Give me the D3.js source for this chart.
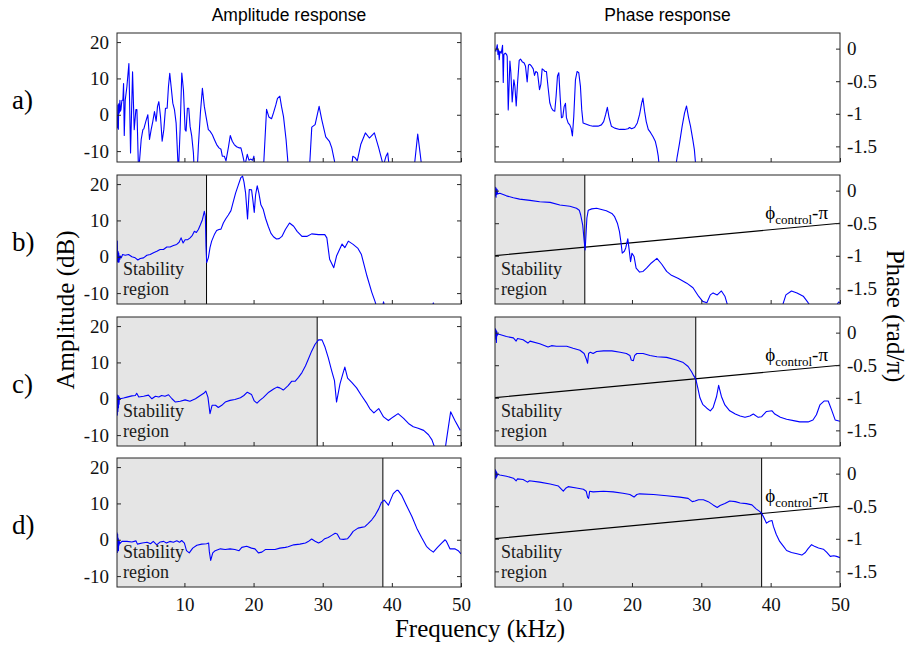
<!DOCTYPE html>
<html><head><meta charset="utf-8">
<script src="https://cdn.jsdelivr.net/npm/d3@7"></script>
<style>body{margin:0;background:#fff} svg{display:block}</style>
</head><body><svg id="c" width="909" height="646"></svg>
<script>
// ---------- DATA ----------
const freqTicks = [10, 20, 30, 40, 50];
const ampTicks = [20, 10, 0, -10];
const phaseTicks = [0, -0.5, -1, -1.5];
const freqDomain = [0.25, 50];
const ampDomain = [-13, 22.5];
const phaseDomain = [-1.74, 0.24];
const rowLabels = ["a)", "b)", "c)", "d)"];
const cutoffs = [null, 13.2, 29.2, 38.7];
const controlFreq = [0, 50];
const controlPhase = [-1, -0.5];

const ampA = [[0.25,-0.5],[0.3,-3.6],[0.38,2.7],[0.45,-4],[0.5,3],[0.58,0.5],[0.67,4],[0.75,1],[0.82,1.4],[0.96,4],[1.1,4],[1.2,8.6],[1.3,-5.7],[1.44,4],[1.68,7.7],[1.97,14.1],[2.21,-10.5],[2.5,11.8],[2.74,-4.1],[2.98,1.4],[3.13,1.4],[3.37,-16],[3.75,-6.8],[3.99,-4.1],[4.13,-3.9],[4.42,-1.8],[4.71,0],[4.95,-6.8],[5.19,-4.1],[5.43,-1.8],[5.67,0.9],[5.91,-1.8],[6.11,2.3],[6.3,3.6],[6.54,-0.5],[6.78,-7.3],[7.02,-4.1],[7.26,1.8],[7.5,1.8],[7.69,7.7],[7.88,11.4],[8.08,7.7],[8.32,3.2],[8.56,1.4],[8.8,-2.3],[9.13,-16],[9.38,-4],[9.62,11.5],[9.86,6.8],[10.1,-4.1],[10.24,-4.5],[10.43,1.8],[10.63,1.8],[10.82,-3.2],[11.06,-5.9],[11.3,-10.5],[11.44,-16],[11.83,-16],[12.02,-8.6],[12.31,0.5],[12.6,7.3],[12.88,2.3],[13.13,-0.5],[13.46,-4.1],[13.7,-4.5],[14.04,-5.5],[14.33,-6.8],[14.66,-8.2],[15,-9.1],[15.29,-9.5],[15.48,-11.4],[15.77,-11.4],[16.01,-12.7],[16.35,-9.1],[16.63,-5.7],[16.92,-7.3],[17.21,-8.2],[17.55,-8.8],[17.88,-9.1],[18.17,-9.1],[18.37,-10.6],[18.56,-12.3],[18.75,-14],[19.09,-10.9],[19.33,-12.5],[19.57,-12.2],[19.86,-12.5],[20.05,-11.4],[20.19,-14.5],[21.44,-14.5],[21.88,1.5],[22.21,-0.6],[22.6,-1.1],[22.88,0.5],[23.22,2.7],[23.46,4.5],[23.8,5.1],[24.04,2.3],[24.33,-0.5],[24.7,-6.8],[25.05,-15],[28.08,-15],[28.42,-3.4],[28.9,-2.7],[29.48,2.3],[29.87,-1.4],[30.44,-6.1],[30.97,-7.3],[31.31,-9.1],[31.7,-12.7],[31.79,-14],[34.2,-14],[34.35,-11.4],[34.68,-11.8],[35,-12.7],[35.5,-8.2],[36.17,-5],[36.75,-6.4],[37.47,-5],[38.1,-9.1],[38.53,-12.3],[38.77,-14],[39.16,-11.4],[39.4,-10.5],[39.6,-14],[43.26,-14],[43.74,-5.3],[44.08,-10.5],[44.3,-14],[50,-14]];

const phaseA = [[0.25,-0.02],[0.38,-0.04],[0.48,0.01],[0.58,0.06],[0.67,-0.09],[0.77,-0.02],[0.86,-0.17],[0.96,-0.04],[1.15,-0.07],[1.34,0.05],[1.44,-0.52],[1.53,-0.09],[1.73,-0.07],[1.92,-0.09],[2.01,-0.12],[2.16,-0.94],[2.4,-0.19],[2.54,-0.37],[2.73,-0.82],[2.97,-0.48],[3.12,-0.58],[3.31,-0.88],[3.5,-0.53],[3.74,-0.18],[3.93,-0.16],[4.17,-0.2],[4.46,-0.22],[4.65,-0.27],[4.89,-0.51],[5.08,-0.25],[5.28,-0.24],[5.52,-0.27],[5.76,-0.31],[5.95,-0.41],[6.14,-0.35],[6.38,-0.37],[6.67,-0.63],[6.86,-0.55],[7.05,-0.31],[7.29,-0.33],[7.43,-0.35],[7.67,-0.35],[7.91,-0.6],[8.15,-0.83],[8.39,-0.91],[8.63,-0.95],[8.87,-0.96],[9.06,-0.73],[9.26,-0.42],[9.45,-0.37],[9.64,-0.73],[9.83,-1.06],[10.02,-1.05],[10.22,-0.89],[10.41,-0.84],[10.55,-1.06],[10.79,-1.14],[11.03,-1.17],[11.22,-1.22],[11.41,-1.34],[11.61,-1.04],[11.85,-0.48],[12.09,-0.35],[12.33,-0.37],[12.57,-0.58],[12.76,-0.94],[12.95,-1.14],[13.43,-1.16],[13.91,-1.18],[14.39,-1.19],[15.11,-1.19],[15.59,-1.17],[15.92,-1.12],[16.21,-1.01],[16.45,-0.9],[16.69,-1.05],[17.03,-1.19],[17.51,-1.22],[18.23,-1.24],[18.94,-1.24],[19.42,-1.23],[19.66,-1.21],[19.95,-1.23],[20.38,-1.21],[20.77,-1.14],[21.1,-1.01],[21.39,-0.84],[21.58,-0.76],[21.82,-0.96],[22.06,-1.12],[22.35,-1.24],[22.69,-1.29],[23.02,-1.35],[23.36,-1.42],[23.6,-1.53],[23.79,-1.65],[23.93,-1.8],[26.33,-1.8],[26.52,-1.66],[26.86,-1.45],[27.24,-1.19],[27.58,-0.99],[27.87,-0.88],[28.15,-1.05],[28.44,-1.19],[28.78,-1.4],[29.0,-1.55],[29.2,-1.8],[50,-1.8]];

const ampB = [[0.25,-1.6],[0.3,4.3],[0.35,-1.2],[0.4,1.5],[0.45,-1.5],[0.5,1.0],[0.55,-1.4],[0.6,0.2],[0.67,-0.7],[0.75,0.2],[0.87,-0.3],[1.06,0.6],[1.44,0.4],[1.92,0.6],[2.4,0],[2.88,-0.3],[3.27,-0.9],[3.61,-0.5],[4.09,-0.3],[4.57,0.4],[5.05,0.6],[5.53,1.1],[6.01,1.5],[6.49,2.0],[6.97,2.0],[7.45,2.7],[7.93,2.7],[8.41,3.1],[8.89,3.4],[9.23,4.0],[9.52,5.2],[9.81,3.8],[10.1,4.7],[10.48,4.7],[10.82,5.2],[11.15,5.9],[11.44,7.0],[11.73,6.7],[12.02,7.5],[12.31,8.8],[12.6,10.2],[12.88,12.5],[13.03,11.1],[13.12,2.9],[13.22,-1.6],[13.46,-0.3],[13.7,2.5],[13.94,4.3],[14.33,6.1],[14.66,7.2],[15,7.5],[15.29,7.6],[15.63,9.3],[15.96,10.4],[16.35,11.5],[16.73,12.7],[17.07,15.2],[17.4,17.5],[17.79,19.7],[18.17,21.8],[18.41,22.2],[18.61,20.6],[18.85,17.5],[19.13,10.4],[19.38,18.5],[19.71,18.4],[19.9,15.6],[20.1,12.2],[20.29,17],[20.53,19.5],[20.77,17.5],[21.06,14.3],[21.39,13.1],[21.73,10.6],[22.12,8.4],[22.5,6.5],[22.88,5.5],[23.32,4.9],[23.7,5.0],[24.1,5.6],[24.6,7.5],[25.2,9.3],[25.8,8.4],[26.3,7],[27,5.6],[27.7,5.6],[28.4,6.3],[29.4,6.1],[30.3,6.1],[30.6,5.2],[31,-0.7],[31.6,-3],[32,0.2],[32.8,3.5],[33.2,2.5],[33.7,4.3],[34.4,3.4],[35.1,2.3],[35.6,0.6],[36.4,-5.3],[37.1,-9.8],[37.6,-12.5],[37.8,-14],[38.6,-14],[38.8,-12.4],[39.0,-14],[45.8,-14],[46.0,-12.7],[46.2,-14],[50,-14]];

const phaseB = [[0.25,0],[0.3,-0.08],[0.35,0.05],[0.4,-0.1],[0.45,0.03],[0.5,-0.06],[0.55,0.02],[0.62,-0.05],[0.95,-0.04],[1.9,-0.08],[2.9,-0.11],[3.8,-0.13],[5.3,-0.15],[6.7,-0.17],[8.2,-0.18],[9.6,-0.22],[11.05,-0.24],[12,-0.27],[12.4,-0.3],[12.6,-0.37],[12.9,-0.53],[13.1,-0.76],[13.25,-0.91],[13.5,-0.42],[13.7,-0.3],[14.2,-0.28],[14.9,-0.27],[15.6,-0.29],[16.3,-0.31],[17.1,-0.35],[17.5,-0.4],[17.9,-0.5],[18.2,-0.63],[18.4,-0.78],[18.6,-0.96],[18.9,-0.93],[19.1,-0.88],[19.4,-0.74],[19.6,-0.91],[19.8,-1.09],[20,-0.96],[20.3,-1.01],[20.6,-1.19],[21.1,-1.25],[21.6,-1.24],[22.1,-1.19],[22.8,-1.11],[23.6,-1.04],[24.3,-1.13],[25,-1.24],[25.7,-1.3],[26.7,-1.35],[27.9,-1.42],[28.8,-1.49],[29.6,-1.62],[30.2,-1.7],[30.8,-1.72],[31.3,-1.6],[31.7,-1.57],[32.3,-1.6],[32.9,-1.54],[33.4,-1.62],[33.9,-1.8],[41.6,-1.8],[42.2,-1.6],[43,-1.54],[43.8,-1.57],[44.7,-1.62],[45.4,-1.72],[45.9,-1.8],[49.3,-1.8],[49.8,-1.71],[50,-1.72]];

const ampC = [[0.25,0.5],[0.3,-4.5],[0.34,1],[0.38,-3.5],[0.42,0.5],[0.46,-2.5],[0.5,0.8],[0.55,-1.5],[0.6,0.3],[0.72,0],[1.2,0.2],[1.7,0.45],[2.4,0.8],[2.9,0.9],[3.1,1.5],[3.4,0.5],[4.1,0.7],[4.8,1],[5.3,0],[5.8,0.7],[6.3,0.5],[6.7,0.9],[7.2,0.7],[7.7,1.1],[8.2,0],[8.7,-0.9],[9.4,-0.7],[10.1,-0.3],[10.8,-0.7],[11.6,0],[12.3,0.9],[12.8,1.5],[13.1,2.1],[13.4,0.45],[13.7,-4.1],[14,-1.8],[14.5,-1.8],[14.9,-2.4],[15.4,-1.8],[15.9,-0.9],[16.6,-0.45],[17.3,-0.2],[18.1,0.3],[18.6,0.9],[19.1,1.8],[19.7,1.2],[20.1,-0.6],[20.5,-1.2],[20.9,-0.45],[21.4,0.3],[22.2,1.8],[22.9,2.7],[23.4,3.2],[23.8,3],[24.3,2.4],[25,3.6],[25.5,4.8],[26,4.8],[26.5,5.9],[27,7.2],[27.5,9],[27.9,10.8],[28.4,13.1],[28.9,15],[29.4,16.2],[29.9,16.2],[30.3,14.4],[30.8,11.3],[31.3,7.7],[31.7,5],[32,-0.9],[32.5,4.1],[32.9,6.8],[33.2,8.7],[33.6,5.7],[34.2,4.5],[34.9,3],[35.6,0.9],[36.4,-1.35],[36.8,-2.7],[37.4,-3.9],[38.1,-2.7],[38.8,-5],[39.5,-6],[40.2,-5],[40.9,-4.1],[41.7,-5.4],[42.4,-6.8],[43.1,-7.7],[43.8,-8.1],[44.6,-8.7],[45.3,-9.9],[45.8,-11.3],[46.3,-14],[47.7,-14],[47.9,-11.3],[48.5,-3.6],[49.1,-5.9],[49.9,-8.7]];

const phaseC = [[0.25,0],[0.3,0.06],[0.35,-0.1],[0.4,0.04],[0.45,-0.15],[0.5,0.02],[0.55,-0.05],[0.62,-0.02],[0.95,-0.03],[1.9,-0.06],[2.9,-0.08],[3.3,-0.13],[3.5,-0.09],[4.3,-0.11],[5,-0.16],[5.3,-0.13],[6.7,-0.17],[7.9,-0.22],[8.4,-0.2],[9.1,-0.21],[10.6,-0.21],[11.5,-0.24],[12.5,-0.27],[13.1,-0.32],[13.4,-0.4],[13.6,-0.47],[13.75,-0.32],[14,-0.3],[14.4,-0.32],[14.9,-0.29],[15.9,-0.28],[17.1,-0.28],[18.3,-0.3],[19.2,-0.32],[19.7,-0.35],[19.9,-0.42],[20.2,-0.43],[20.4,-0.35],[20.7,-0.32],[21.6,-0.32],[22.6,-0.35],[23.6,-0.37],[25,-0.38],[26.4,-0.42],[27.4,-0.46],[28.1,-0.52],[28.6,-0.6],[28.9,-0.66],[29.2,-0.71],[29.5,-0.85],[29.8,-1.0],[30.2,-1.1],[30.8,-1.16],[31.3,-1.2],[31.7,-1.15],[32.2,-0.98],[32.5,-0.81],[32.9,-0.98],[33.4,-1.11],[34.1,-1.2],[34.9,-1.25],[35.6,-1.28],[36.3,-1.3],[37,-1.28],[37.5,-1.25],[38.2,-1.3],[38.7,-1.29],[39.4,-1.21],[40.2,-1.2],[40.6,-1.25],[41.4,-1.3],[42.3,-1.33],[43.3,-1.35],[44.2,-1.37],[45.4,-1.37],[46.1,-1.34],[46.6,-1.26],[47.1,-1.11],[47.7,-1.05],[48.3,-1.05],[48.8,-1.19],[49.3,-1.34],[50,-1.36]];

const ampD = [[0.25,2],[0.3,-3.5],[0.34,1.5],[0.38,-2.5],[0.42,0.5],[0.46,-3],[0.5,0],[0.55,-1.5],[0.6,-0.5],[0.7,-1],[0.96,-0.45],[1.7,-0.45],[2.4,-0.6],[3,-0.3],[3.2,-1.2],[3.9,-0.9],[4.6,-0.7],[5.1,-1.1],[5.5,-0.45],[6,-1.4],[6.5,-0.6],[7,-0.45],[7.4,-0.9],[7.9,-0.45],[8.4,-0.7],[8.9,-0.3],[9.3,-0.7],[9.6,-0.2],[10,-0.9],[10.3,-3],[10.7,-3.6],[11.2,-2.3],[11.8,-1.5],[12.5,-1.2],[13.2,-1.1],[13.5,-0.9],[13.6,-3.2],[13.8,-5.7],[14.1,-3.6],[14.45,-3],[15.2,-2.5],[15.9,-2.7],[16.6,-2.5],[17.3,-2.7],[17.9,-3],[18.3,-2.1],[19,-1.8],[19.7,-2.3],[20.2,-2.5],[20.7,-3.6],[21.2,-3.4],[21.7,-2.7],[22.4,-2.7],[23.1,-2.7],[23.8,-2.3],[24.6,-2.1],[25,-1.9],[25.8,-1.4],[26.7,-1.2],[27.5,-0.9],[27.9,-0.5],[28.4,0.2],[28.9,-0.4],[29.4,-0.9],[29.9,-0.4],[30.3,0.3],[30.8,0.6],[31.3,1.2],[31.8,1.8],[32.1,1.6],[32.5,0.2],[33,0.1],[33.6,0.3],[34,1.2],[34.4,2.3],[35.1,3.2],[35.6,3.4],[36.1,3.6],[36.6,4.5],[37.1,5.5],[37.6,6.8],[38.1,8.5],[38.5,10.3],[38.9,10.9],[39.3,10],[39.5,9.5],[39.8,10.9],[40.2,12.7],[40.7,13.6],[40.9,13.6],[41.4,12.3],[42.1,9.5],[42.9,6.4],[43.6,3.2],[44.3,0.6],[45,-1.8],[45.5,-2.7],[46,-3.4],[46.6,-2.1],[47.2,-0.9],[47.7,0],[47.9,-0.45],[48.4,-2.5],[49.1,-2.5],[49.6,-3],[50,-3.9]];

const phaseD = [[0.25,0],[0.3,0.06],[0.35,-0.08],[0.4,0.04],[0.45,-0.06],[0.5,0.02],[0.55,-0.04],[0.62,-0.01],[0.95,-0.02],[1.9,-0.04],[2.9,-0.07],[3.3,-0.11],[3.5,-0.08],[4.3,-0.09],[4.95,-0.13],[5.2,-0.11],[6.7,-0.13],[8.2,-0.16],[9.4,-0.19],[9.85,-0.24],[10.1,-0.27],[10.5,-0.22],[10.8,-0.2],[12,-0.22],[13,-0.24],[13.4,-0.27],[13.6,-0.36],[13.75,-0.38],[13.9,-0.27],[14.4,-0.28],[15.9,-0.27],[17.3,-0.28],[18.7,-0.3],[19.7,-0.32],[20.3,-0.36],[20.7,-0.32],[21.1,-0.31],[23.1,-0.32],[25,-0.34],[26.9,-0.36],[28.1,-0.38],[28.7,-0.43],[29.1,-0.42],[29.6,-0.4],[30.3,-0.4],[31,-0.43],[31.7,-0.48],[32.3,-0.52],[32.7,-0.49],[33.4,-0.46],[34.1,-0.42],[34.9,-0.43],[35.6,-0.45],[36.5,-0.46],[37.3,-0.48],[37.9,-0.54],[38.4,-0.58],[38.7,-0.61],[39,-0.67],[39.4,-0.76],[39.8,-0.73],[40.2,-0.72],[40.4,-0.81],[40.8,-0.93],[41.3,-1.04],[41.8,-1.11],[42.3,-1.18],[43,-1.21],[43.8,-1.23],[44.5,-1.25],[45,-1.21],[45.4,-1.15],[45.9,-1.09],[46.4,-1.12],[46.9,-1.14],[47.6,-1.16],[48.1,-1.21],[48.6,-1.27],[49.1,-1.26],[49.5,-1.27],[50,-1.29]];

// ---------- DRAWING ----------
const svg = d3.select('#c');
const serif = '"Liberation Serif","Times New Roman",Times,serif';
const sans = '"Liberation Sans",Arial,Helvetica,sans-serif';
const axisCol = '#262626';
const rows = [
  {amp: ampA, phase: phaseA},
  {amp: ampB, phase: phaseB},
  {amp: ampC, phase: phaseC},
  {amp: ampD, phase: phaseD}
];
const rowTops = [33, 175, 317, 458];
const panelH = 129;
const cols = [{l:117, r:461}, {l:495, r:840}];

const defs = svg.append('defs');

function drawPanel(i, c) {
  const top = rowTops[i], bot = top + panelH;
  const col = cols[c];
  const isPhase = c === 1;
  const x = d3.scaleLinear().domain(freqDomain).range([col.l, col.r]);
  const y = d3.scaleLinear().domain(isPhase ? phaseDomain : ampDomain).range([bot, top]);
  const id = `clip${i}${c}`;
  defs.append('clipPath').attr('id', id).append('rect')
    .attr('x', col.l).attr('y', top).attr('width', col.r - col.l).attr('height', panelH);
  const g = svg.append('g');
  const inner = g.append('g').attr('clip-path', `url(#${id})`);
  const cut = cutoffs[i];
  if (cut != null) {
    inner.append('rect').attr('x', x(freqDomain[0])).attr('y', top)
      .attr('width', x(cut) - x(freqDomain[0])).attr('height', panelH).attr('fill', '#e5e5e5');
    inner.append('line').attr('x1', x(cut)).attr('x2', x(cut)).attr('y1', top).attr('y2', bot)
      .attr('stroke', '#000').attr('stroke-width', 1);
    if (isPhase) {
      inner.append('line')
        .attr('x1', x(controlFreq[0])).attr('y1', y(controlPhase[0]))
        .attr('x2', x(controlFreq[1])).attr('y2', y(controlPhase[1]))
        .attr('stroke', '#000').attr('stroke-width', 1.1);
    }
  }
  const data = isPhase ? rows[i].phase : rows[i].amp;
  inner.append('path').datum(data)
    .attr('d', d3.line().x(d => x(d[0])).y(d => y(d[1])))
    .attr('fill', 'none').attr('stroke', '#0000ff').attr('stroke-width', 1.1)
    .attr('stroke-linejoin', 'round');

  if (cut != null) {
    const tx = col.l + 6;
    g.append('text').attr('x', tx).attr('y', bot - 29)
      .attr('font-family', serif).attr('font-size', 18).attr('fill', '#1a1a1a').text('Stability');
    g.append('text').attr('x', tx).attr('y', bot - 9)
      .attr('font-family', serif).attr('font-size', 18).attr('fill', '#1a1a1a').text('region');
    if (isPhase) {
      const lt = g.append('text').attr('x', col.r - 12).attr('y', y(controlPhase[1]) - 4)
        .attr('text-anchor', 'end').attr('font-family', serif).attr('font-size', 19).attr('fill', '#000');
      lt.append('tspan').text('\u03d5');
      lt.append('tspan').attr('font-size', 13).attr('dy', 5).text('control');
      lt.append('tspan').attr('dy', -5).text('-\u03c0');
    }
  }

  // axes
  const ticks = isPhase ? phaseTicks : ampTicks;
  const fmt = d => String(d);
  const leftAx = d3.axisLeft(y).tickValues(ticks).tickSize(-4).tickPadding(8)
    .tickFormat(isPhase ? '' : fmt);
  const rightAx = d3.axisRight(y).tickValues(ticks).tickSize(-4).tickPadding(7)
    .tickFormat(isPhase ? fmt : '');
  const botAx = d3.axisBottom(x).tickValues(freqTicks).tickSize(-4).tickPadding(11)
    .tickFormat(i === 3 ? d3.format('d') : '');
  [[leftAx, `translate(${col.l},0)`], [rightAx, `translate(${col.r},0)`], [botAx, `translate(0,${bot})`]]
    .forEach(([ax, tr]) => {
      const a = g.append('g').attr('transform', tr).call(ax);
      a.select('.domain').remove();
      a.selectAll('line').attr('stroke', axisCol);
      a.selectAll('text').attr('font-family', serif).attr('font-size', 19).attr('fill', '#111');
    });
  g.append('rect').attr('x', col.l).attr('y', top).attr('width', col.r - col.l).attr('height', panelH)
    .attr('fill', 'none').attr('stroke', axisCol).attr('stroke-width', 1);
}

rows.forEach((r, i) => { drawPanel(i, 0); drawPanel(i, 1); });

// row labels
rowLabels.forEach((lab, i) => {
  svg.append('text').attr('x', 12).attr('y', rowTops[i] + panelH / 2 + 11)
    .attr('font-family', serif).attr('font-size', 27).attr('fill', '#000').text(lab);
});

// titles
svg.append('text').attr('x', (cols[0].l + cols[0].r) / 2).attr('y', 21).attr('text-anchor', 'middle')
  .attr('font-family', sans).attr('font-size', 17.5).attr('fill', '#000').text('Amplitude response');
svg.append('text').attr('x', (cols[1].l + cols[1].r) / 2).attr('y', 21).attr('text-anchor', 'middle')
  .attr('font-family', sans).attr('font-size', 17.5).attr('fill', '#000').text('Phase response');

// axis labels
svg.append('text').attr('transform', 'translate(74,310) rotate(-90)').attr('text-anchor', 'middle')
  .attr('font-family', serif).attr('font-size', 25).attr('fill', '#000').text('Amplitude (dB)');
svg.append('text').attr('transform', 'translate(887,316) rotate(90)').attr('text-anchor', 'middle')
  .attr('font-family', serif).attr('font-size', 25).attr('fill', '#000').text('Phase (rad/\u03c0)');
svg.append('text').attr('x', 480).attr('y', 637).attr('text-anchor', 'middle')
  .attr('font-family', serif).attr('font-size', 25).attr('fill', '#000').text('Frequency (kHz)');
</script></body></html>
